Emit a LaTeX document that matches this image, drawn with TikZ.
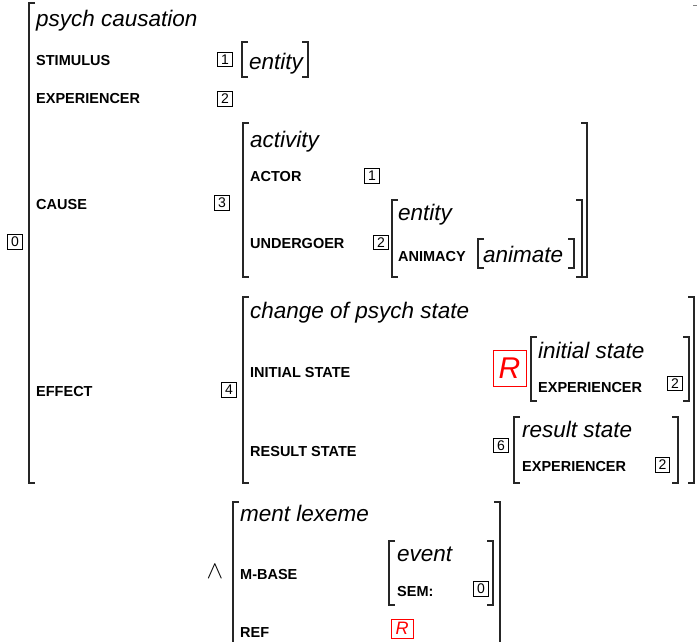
\documentclass[tikz,border=0pt]{standalone}
\usepackage{fontspec}
\setmainfont{Liberation Sans}
% square brackets of an attribute-value matrix
\newcommand{\lbrak}[3]{\draw[brk] (#1+6,#2) -- (#1,#2) -- (#1,#3) -- (#1+6,#3);}
\newcommand{\rbrak}[3]{\draw[brk] (#1-6,#2) -- (#1,#2) -- (#1,#3) -- (#1-6,#3);}
\begin{document}
\begin{tikzpicture}[x=1pt,y=-1pt,
  brk/.style={line width=1.3pt, line cap=butt, line join=miter, black!85},
  lab/.style={anchor=base west, inner sep=0pt, font=\bfseries\fontsize{14.5}{16}\selectfont},
  typ/.style={anchor=base west, inner sep=0pt, font=\itshape\fontsize{22.5}{26}\selectfont},
  tag/.style={draw, line width=0.7pt, minimum width=14.5pt, minimum height=14.5pt, inner sep=0pt, font=\fontsize{14}{14}\selectfont},
  rtag/.style={draw=red, text=red, line width=0.7pt, inner sep=0pt, font=\itshape},
]
\useasboundingbox (0,0) rectangle (697,641);

% ---- outer matrix: psych causation
\node[tag] (t0) at (15,242) {0};
\draw[brk] (35,3) -- (29,3) -- (29,483) -- (35,483);
\node[typ] (psy) at (36,26) {psych causation};
\node[lab] (stim) at (36,65) {STIMULUS};
\node[lab] (exp) at (36,103) {EXPERIENCER};
\node[lab] (cause) at (36,209) {CAUSE};
\node[lab] (eff) at (36,396) {EFFECT};

\node[tag] (t1) at (225,59.5) {1};
\lbrak{242}{42}{77}
\node[typ] (ent1) at (249,69) {entity};
\rbrak{308}{42}{77}
\node[tag] (t2) at (225,99) {2};

% ---- cause: activity
\node[tag] (t3) at (222,203) {3};
\lbrak{243}{123}{277}
\rbrak{587}{123}{277}
\node[typ] (act) at (250,147) {activity};
\node[lab] (actor) at (250,181) {ACTOR};
\node[tag] (t1b) at (372,176) {1};
\node[lab] (und) at (250,248) {UNDERGOER};
\node[tag] (t2b) at (381,242.5) {2};
\lbrak{392}{200}{277}
\rbrak{582}{200}{277}
\node[typ] (ent2) at (398,220) {entity};
\node[lab] (anim) at (398,261) {ANIMACY};
\lbrak{478}{239}{268}
\node[typ] (animv) at (483,262) {animate};
\rbrak{574}{239}{268}

% ---- effect: change of psych state
\node[tag] (t4) at (229,390) {4};
\lbrak{243}{297}{483}
\rbrak{694}{297}{483}
\draw[line width=0.8pt, gray] (693,5) -- (697,5);
\node[typ] (chg) at (250,318) {change of psych state};
\node[lab] (ini) at (250,377) {INITIAL STATE};
\node[lab] (res) at (250,456) {RESULT STATE};

\node[rtag, minimum width=33pt, minimum height=36pt, font=\itshape\fontsize{30}{30}\selectfont] (R1) at (509.5,368) {R};
\lbrak{531}{337}{401}
\rbrak{689}{337}{401}
\node[typ] (inis) at (538,358) {initial state};
\node[lab] (exp2) at (538,392) {EXPERIENCER};
\node[tag] (t2c) at (675,383.5) {2};

\node[tag] (t6) at (501,445.5) {6};
\lbrak{514}{417}{483}
\rbrak{678}{417}{483}
\node[typ] (ress) at (522,437) {result state};
\node[lab] (exp3) at (522,471) {EXPERIENCER};
\node[tag] (t2d) at (662.5,465) {2};

% ---- conjoined matrix: ment lexeme
\node[inner sep=0pt, font=\fontsize{26}{26}\selectfont] (and) at (215,572) {$\wedge$};
\draw[brk] (239,502) -- (233,502) -- (233,645);
\draw[brk] (494,502) -- (500,502) -- (500,645);
\node[typ] (ment) at (240,521) {ment lexeme};
\node[lab] (mbase) at (240,579) {M-BASE};
\node[lab] (ref) at (240,637) {REF};
\lbrak{389}{541}{605}
\rbrak{493}{541}{605}
\node[typ] (evt) at (397,561) {event};
\node[lab] (sem) at (397,596) {SEM:};
\node[tag] (t0b) at (481,589) {0};
\node[rtag, minimum width=22pt, minimum height=19pt, font=\itshape\fontsize{18}{18}\selectfont] (R2) at (402,628.5) {R};
\end{tikzpicture}
\end{document}
